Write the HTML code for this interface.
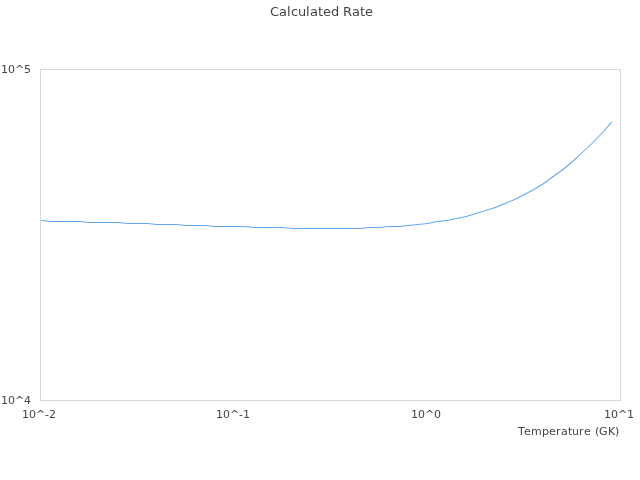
<!DOCTYPE html>
<html lang="en">
<head>
<meta charset="utf-8">
<title>Calculated Rate</title>
<style>
  html, body { margin: 0; padding: 0; background: #ffffff; }
  body { width: 640px; height: 480px; overflow: hidden; }
  svg { display: block; will-change: transform; }
  text { font-family: "DejaVu Sans", "Liberation Sans", sans-serif; fill: #444444; }
  .t { font-size: 13px; }
  .l { font-size: 11px; }
</style>
</head>
<body>
<svg width="640" height="480" viewBox="0 0 640 480">
  <rect x="0" y="0" width="640" height="480" fill="#ffffff"/>
  <rect x="40.5" y="69.5" width="580" height="331" fill="none" stroke="#d8d8d8" stroke-width="1"/>
  <polygon fill="#60a8f0" points="40.95,221.00 50.64,222.00 79.64,222.00 89.30,223.00 118.30,223.00 127.97,224.00 147.30,224.00 156.97,225.00 176.30,225.00 185.97,226.00 205.30,226.00 214.97,227.00 243.97,227.00 253.64,228.00 282.64,228.00 292.30,229.00 360.03,229.00 369.70,228.00 379.36,228.00 389.03,227.00 398.70,227.00 408.38,226.00 418.05,225.00 427.75,223.99 437.41,221.99 447.08,220.99 456.77,218.99 466.46,216.98 476.15,213.98 485.82,210.98 495.50,207.97 505.19,203.96 514.88,199.95 524.56,194.94 534.25,189.94 543.95,183.92 553.62,176.90 563.31,169.90 573.00,161.88 582.67,152.87 592.35,143.86 602.04,133.84 612.04,122.45 611.28,121.79 601.30,133.16 591.65,143.14 581.99,152.13 572.34,161.12 562.69,169.10 553.04,176.10 543.39,183.08 533.75,189.06 524.10,194.06 514.46,199.05 504.81,203.04 495.16,207.03 485.52,210.02 475.85,213.02 466.20,216.02 456.57,218.01 446.92,220.01 437.25,221.01 427.59,223.01 417.95,224.00 408.28,225.00 398.64,226.00 388.97,226.00 379.30,227.00 369.64,227.00 359.97,228.00 292.36,228.00 282.70,227.00 253.70,227.00 244.03,226.00 215.03,226.00 205.36,225.00 186.03,225.00 176.36,224.00 157.03,224.00 147.36,223.00 128.03,223.00 118.36,222.00 89.36,222.00 79.70,221.00 50.70,221.00 41.05,220.00"/>
  <text class="t" x="270 279 287 291 298 306 310 318 323 331 339 343 352 360 365" y="16">Calculated Rate</text>
  <text class="l" x="1 8 15 24" y="73">10^5</text>
  <text class="l" x="1 8 15 24" y="404">10^4</text>
  <text class="l" x="22 29 36 45 49" y="418">10^-2</text>
  <text class="l" x="216 223 230 239 243" y="418">10^-1</text>
  <text class="l" x="411 418 425 434" y="418">10^0</text>
  <text class="l" x="604 611 618 627" y="418">10^1</text>
  <text class="l" x="518 524 531 542 549 556 561 568 572 579 584 591 595 599 608 615" y="435">Temperature (GK)</text>
</svg>
</body>
</html>
